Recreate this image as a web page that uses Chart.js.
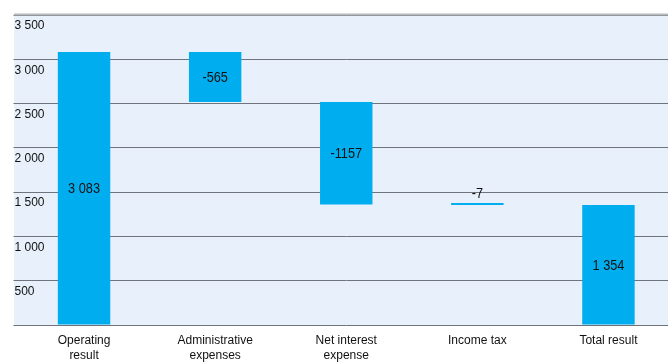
<!DOCTYPE html>
<html>
<head>
<meta charset="utf-8">
<script src="https://cdn.jsdelivr.net/npm/chart.js@4/dist/chart.umd.min.js"></script>
<style>
  html, body { margin: 0; padding: 0; background: #fff; overflow: hidden; width: 668px; height: 362px; }
  canvas { display: block; }
</style>
</head>
<body>
<canvas id="c" width="674" height="362"></canvas>
<script>
// Data
const categories = [["Operating", "result"], ["Administrative", "expenses"], ["Net interest", "expense"], "Income tax", "Total result"];
const barStarts = [0, 2518, 1361, 1354, 0];
const barEnds = [3083, 3083, 2518, 1361, 1354];
const valueLabels = ["3 083", "-565", "-1157", "-7", "1 354"];
const yTicks = [0, 500, 1000, 1500, 2000, 2500, 3000, 3500];

const BG = '#e8f1fb';
const GRID = '#6f747c';
const FONT = '"Liberation Sans", Arial, sans-serif';

const bgPlugin = {
  id: 'bg',
  beforeDraw(chart) {
    const { ctx, chartArea } = chart;
    ctx.save();
    ctx.fillStyle = BG;
    ctx.fillRect(14, chartArea.top, chartArea.right - 14, chartArea.bottom - chartArea.top);
    ctx.restore();
  },
  afterDraw(chart) {
    const { ctx, chartArea } = chart;
    ctx.save();
    ctx.fillStyle = '#b7b9bc';
    ctx.fillRect(14, chartArea.top - 1.5, chartArea.right - 14, 2);
    ctx.restore();
  }
};

const labelPlugin = {
  id: 'vlabels',
  afterDatasetsDraw(chart) {
    const { ctx } = chart;
    const meta = chart.getDatasetMeta(0);
    const sx = 0.85;
    ctx.save();
    ctx.font = '15px ' + FONT;
    ctx.fillStyle = '#111';
    ctx.textAlign = 'center';
    ctx.textBaseline = 'middle';
    ctx.scale(sx, 1);
    meta.data.forEach((el, i) => {
      const top = Math.min(el.y, el.base);
      const bot = Math.max(el.y, el.base);
      let y = (top + bot) / 2;
      if (bot - top < 10) y = top - 10;
      ctx.fillText(valueLabels[i], el.x / sx, y + 1);
    });
    ctx.restore();
  }
};

new Chart(document.getElementById('c'), {
  type: 'bar',
  data: {
    labels: categories,
    datasets: [{
      data: barStarts.map((s, i) => [s, barEnds[i]]),
      backgroundColor: '#00aeef',
      borderWidth: 0,
      minBarLength: 2,
      barPercentage: 0.4,
      categoryPercentage: 1.0
    }]
  },
  options: {
    responsive: false,
    animation: false,
    devicePixelRatio: 1,
    layout: { padding: { left: 14, top: 15, right: 0, bottom: 0 } },
    plugins: { legend: { display: false }, tooltip: { enabled: false } },
    scales: {
      x: {
        grid: { display: false },
        border: { display: false },
        ticks: {
          color: '#111',
          font: { family: FONT, size: 12, lineHeight: 1.25 },
          padding: 0,
          maxRotation: 0,
          autoSkip: false
        },
        afterFit(scale) { scale.height = 37; }
      },
      y: {
        min: 0,
        max: 3500,
        afterBuildTicks(scale) { scale.ticks = yTicks.map(v => ({ value: v })); },
        grid: { color: GRID, lineWidth: 1, drawTicks: true, tickLength: 5 },
        border: { display: false },
        ticks: {
          mirror: true,
          padding: -4,
          labelOffset: 11,
          color: '#111',
          font: { family: FONT, size: 12 },
          callback: (v) => v === 0 ? '' : String(v).replace(/\B(?=(\d{3})+(?!\d))/g, ' ')
        },
        afterFit(scale) { scale.width = 4.5; }
      }
    }
  },
  plugins: [bgPlugin, labelPlugin]
});
</script>
</body>
</html>
